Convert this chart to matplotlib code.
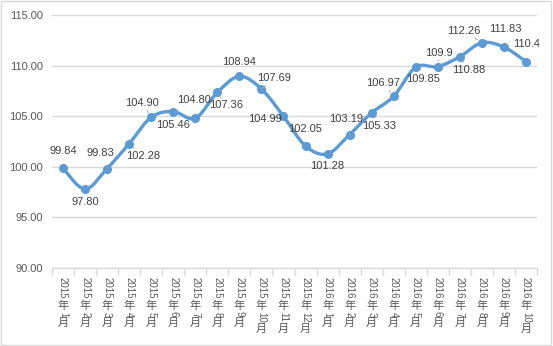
import re
import numpy as np
import matplotlib.pyplot as plt
from matplotlib.path import Path
from matplotlib.patches import PathPatch, Rectangle

plt.rcParams['font.family'] = ['Liberation Sans', 'Noto Sans CJK SC']

months = ["2015年1月", "2015年2月", "2015年3月", "2015年4月", "2015年5月", "2015年6月",
          "2015年7月", "2015年8月", "2015年9月", "2015年10月", "2015年11月", "2015年12月",
          "2016年1月", "2016年2月", "2016年3月", "2016年4月", "2016年5月", "2016年6月",
          "2016年7月", "2016年8月", "2016年9月", "2016年10月"]
values = [99.84, 97.80, 99.83, 102.28, 104.90, 105.46, 104.80, 107.36, 108.94, 107.69,
          104.99, 102.05, 101.28, 103.19, 105.33, 106.97, 109.85, 109.9, 110.88, 112.26,
          111.83, 110.4]
value_text = ["99.84", "97.80", "99.83", "102.28", "104.90", "105.46", "104.80", "107.36",
              "108.94", "107.69", "104.99", "102.05", "101.28", "103.19", "105.33", "106.97",
              "109.85", "109.9", "110.88", "112.26", "111.83", "110.4"]

# label placement (pixel offsets from the marker) and whether a leader line is drawn
label_offsets = [(0, 17), (0, -13), (-7, 16), (14, -12), (-9, 14), (0, -13), (-1, 18),
                 (9, -13), (0, 14), (13, 11), (-19, -3), (0, 17), (0, -12), (-4, 16),
                 (7, -13), (-11, 13), (7, -12), (1, 14), (9, -13), (-18, 12), (1, 18),
                 (1, 18)]
leaders = [False, False, True, True, True, False, False, True, False, True, True, False,
           False, True, True, True, False, True, True, True, False, False]

blue = "#5B9BD5"
grid = "#D9D9D9"
text_c = "#595959"

W, H = 553, 346
fig = plt.figure(figsize=(W / 100, H / 100), dpi=100)
ax = fig.add_axes([52 / W, 1 - 268 / H, 485 / W, 253 / H])

x = np.arange(len(values))
y = np.array(values)

# smooth curve through the points (Catmull-Rom style bezier segments)
verts = [(x[0], y[0])]
codes = [Path.MOVETO]
n = len(x)
for i in range(n - 1):
    p0 = np.array([x[max(i - 1, 0)], y[max(i - 1, 0)]])
    p1 = np.array([x[i], y[i]])
    p2 = np.array([x[i + 1], y[i + 1]])
    p3 = np.array([x[min(i + 2, n - 1)], y[min(i + 2, n - 1)]])
    c1 = p1 + (p2 - p0) / 6
    c2 = p2 - (p3 - p1) / 6
    verts += [tuple(c1), tuple(c2), tuple(p2)]
    codes += [Path.CURVE4] * 3
ax.add_patch(PathPatch(Path(verts, codes), facecolor="none", edgecolor=blue,
                       linewidth=2.4, capstyle="round", joinstyle="round", zorder=3))
ax.plot(x, y, "o", color=blue, markersize=5.5, zorder=4)

for i, (v, t) in enumerate(zip(values, value_text)):
    dx, dy = label_offsets[i]
    kw = {}
    if leaders[i]:
        kw["arrowprops"] = dict(arrowstyle="-", color="#A6A6A6", lw=0.8,
                                shrinkA=6, shrinkB=4)
    ax.annotate(t, (i, v), xytext=(dx, dy), textcoords="offset pixels",
                ha="center", va="center", fontsize=8, color="#404040", zorder=5, **kw)

ax.set_xlim(-0.5, len(values) - 0.5)
ax.set_ylim(90, 115)
ax.set_yticks(np.arange(90, 116, 5))
ax.set_yticklabels([f"{v:.2f}" for v in np.arange(90, 116, 5)])
ax.yaxis.grid(True, color=grid, linewidth=1)
ax.set_axisbelow(True)
ax.tick_params(axis="y", length=0, labelsize=8, labelcolor=text_c, pad=6.5)

ax.set_xticks(np.arange(-0.5, len(values)))
ax.set_xticklabels([])
ax.tick_params(axis="x", length=5, color=grid, width=1)

for s in ["top", "right", "left"]:
    ax.spines[s].set_visible(False)
ax.spines["bottom"].set_color(grid)
ax.spines["bottom"].set_linewidth(1)

# vertical category labels: digits turned sideways, CJK characters kept upright
digit_px = 5.6
cjk_px = 12.0
top_px = 277
for i, lab in enumerate(months):
    xc = ax.transData.transform((i, 0))[0]
    ypos = top_px
    for piece in re.findall(r"\d+|\D", lab):
        if piece.isdigit():
            span = len(piece) * digit_px
            fig.text(xc / W, 1 - (ypos + span / 2) / H, piece, rotation=-90,
                     ha="center", va="center", fontsize=7, color=text_c)
            ypos += span
        else:
            fig.text(xc / W, 1 - (ypos + cjk_px / 2) / H, piece, ha="center",
                     va="center", fontsize=8, color=text_c, family="Noto Sans CJK SC")
            ypos += cjk_px

fig.patches.append(Rectangle((0.002, 0.003), 0.995, 0.994, transform=fig.transFigure,
                             fill=False, edgecolor=grid, linewidth=1))

fig.savefig("out.png", dpi=100)
